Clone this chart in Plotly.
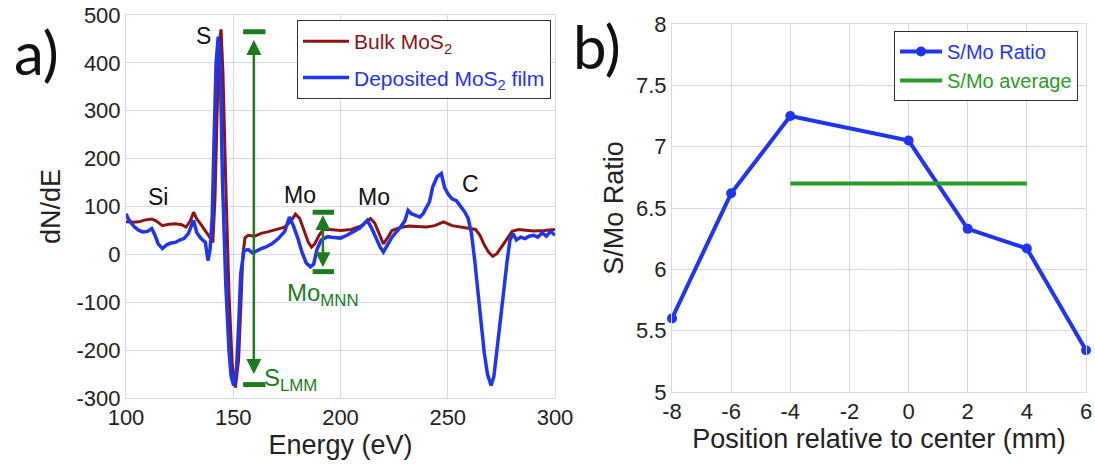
import plotly.graph_objects as go

# ---------------- data: panel a (Auger spectra) ----------------
bulk_energy = [100, 103, 106, 109, 112, 114, 117, 120, 123, 126, 128, 130, 131.5, 133, 135, 137, 139,
               140.5, 141.5, 142.5, 143.5, 144.3, 145.2, 146.5, 148, 149.5, 151, 152.5, 153.5, 154.5,
               155.5, 157, 160, 163, 166, 170, 174, 177, 179, 181, 183, 185, 186.5, 188, 190, 192, 195,
               200, 205, 210, 212, 214, 216, 218, 220, 222, 224, 228, 232, 236, 240, 244, 248, 252, 256,
               260, 263, 265, 267, 269, 271, 273, 275, 277, 280, 283, 286, 290, 295, 300]
bulk_dnde = [68, 67, 68, 72, 74, 70, 60, 63, 64, 62, 57, 70, 88, 74, 62, 50, 36,
             25, 120, 300, 440, 470, 380, 150, -80, -230, -278, -220, -100, 0,
             35, 40, 38, 44, 47, 52, 57, 70, 84, 75, 50, 25, 15, 22, 40, 52, 52,
             50, 52, 60, 68, 75, 65, 42, 22, 35, 50, 56, 59, 58, 57, 60, 68, 60, 57,
             55, 52, 40, 20, 5, -4, 2, 15, 30, 48, 52, 51, 49, 50, 52]

film_energy = [100, 101, 102.5, 104, 106, 108, 110, 112, 113.5, 115, 117, 119, 121, 123, 125, 127, 129,
               130.5, 131.5, 133, 135, 137, 138.2, 139.2, 140.2, 141, 142, 143, 144, 145, 146.5, 148,
               149, 150.2, 151.5, 152.5, 153.5, 155, 157, 159, 161, 163, 165, 168, 171, 174, 176.2,
               178, 180, 182, 184, 186, 187.5, 189, 191, 194, 197, 200, 203, 206, 209, 212.5, 214.5,
               216.5, 218.5, 220, 222, 224, 226, 228, 230, 231.5, 233, 235, 237, 238.5, 240, 241.5,
               243, 245, 247, 248.5, 250, 252, 254, 256, 258, 259.5, 261, 262.5, 264, 265.5, 267,
               268.5, 270.2, 271.5, 273, 274.5, 276, 277.5, 279, 280.5, 282, 284, 286, 288, 290, 292,
               294, 296, 298, 300]
film_dnde = [85, 75, 65, 57, 50, 47, 48, 54, 40, 22, 12, 20, 24, 25, 30, 33, 43,
             62, 71, 45, 33, 25, -13, 10, 80, 230, 400, 455, 380, 150, -60, -200,
             -255, -274, -240, -150, -40, 8, 10, 3, 8, 12, 15, 22, 33, 48, 78,
             60, 35, 5, -18, -26, -20, 10, 30, 37, 35, 34, 40, 48, 55, 71, 55,
             35, 15, 5, 20, 36, 47, 57, 70, 92, 85, 82, 78, 85, 98, 110,
             141, 162, 169, 140, 127, 116, 112, 100, 88, 75, 45, -10, -80, -150, -205,
             -250, -274, -255, -200, -140, -80, -20, 30, 43, 30, 36, 33, 38, 40, 36,
             45, 38, 48, 40]

energy_ticks = [100, 150, 200, 250, 300]
dnde_ticks = [-300, -200, -100, 0, 100, 200, 300, 400, 500]
dnde_ticktext = ["-300", "-200", "-100", "0", "100", "200", "300", "400", "500"]

# ---------------- data: panel b (S/Mo ratio) ----------------
position_mm = [-8, -6, -4, 0, 2, 4, 6]
smo_ratio = [5.6, 6.62, 7.25, 7.05, 6.33, 6.17, 5.34]
avg_position = [-4, 4]
avg_ratio = [6.7, 6.7]
position_ticks = [-8, -6, -4, -2, 0, 2, 4, 6]
position_ticktext = ["-8", "-6", "-4", "-2", "0", "2", "4", "6"]
ratio_ticks = [5, 5.5, 6, 6.5, 7, 7.5, 8]
ratio_ticktext = ["5", "5.5", "6", "6.5", "7", "7.5", "8"]

# ---------------- styles ----------------
W, H = 1095, 465
FONT = "Liberation Sans, Arial, sans-serif"
GRID = "#d6d6f6"
RED = "#8b1414"
BLUE = "#1f35f0"
GREEN_A = "#1e7a1e"
GREEN_B = "#2a9a2a"


def px_x(p):
    return p / W


def px_y(p):
    return 1 - p / H


fig = go.Figure()

fig.add_trace(go.Scatter(x=bulk_energy, y=bulk_dnde, mode="lines",
                         line=dict(color=RED, width=3), legendgroup="bulk",
                         name=f"<span style='color:{RED}'>Bulk MoS<sub>2</sub></span>",
                         xaxis="x", yaxis="y", legend="legend"))
fig.add_trace(go.Scatter(x=film_energy, y=film_dnde, mode="lines",
                         line=dict(color=BLUE, width=3.5), legendgroup="film",
                         name=f"<span style='color:{BLUE}'>Deposited MoS<sub>2</sub> film</span>",
                         xaxis="x", yaxis="y", legend="legend"))

fig.add_trace(go.Scatter(x=position_mm, y=smo_ratio, mode="lines+markers",
                         line=dict(color=BLUE, width=4), marker=dict(color=BLUE, size=10),
                         name=f"<span style='color:{BLUE}'>S/Mo Ratio</span>",
                         xaxis="x2", yaxis="y2", legend="legend2", cliponaxis=False))
fig.add_trace(go.Scatter(x=avg_position, y=avg_ratio, mode="lines",
                         line=dict(color=GREEN_B, width=4),
                         name=f"<span style='color:{GREEN_B}'>S/Mo average</span>",
                         xaxis="x2", yaxis="y2", legend="legend2"))

axis_common = dict(showgrid=True, gridcolor=GRID, gridwidth=1, showline=True, linecolor=GRID,
                   linewidth=1, mirror=True, ticks="", zeroline=False, automargin=False,
                   tickfont=dict(family=FONT, size=22, color="#222"))

fig.update_layout(
    width=W, height=H, margin=dict(l=0, r=0, t=0, b=0, autoexpand=False),
    paper_bgcolor="white", plot_bgcolor="white",
    font=dict(family=FONT, color="#222"),
    xaxis=dict(domain=[px_x(126), px_x(555)], range=[100, 300], tickvals=energy_ticks,
               anchor="y", title=dict(text="Energy (eV)", font=dict(size=27), standoff=2),
               **axis_common),
    yaxis=dict(domain=[px_y(398), px_y(15)], range=[-300, 500], tickvals=dnde_ticks,
               ticktext=dnde_ticktext,
               anchor="x", title=dict(text="dN/dE", font=dict(size=27), standoff=8),
               **axis_common),
    xaxis2=dict(domain=[px_x(672), px_x(1086)], range=[-8, 6], tickvals=position_ticks,
                ticktext=position_ticktext,
                anchor="y2", title=dict(text="Position relative to center (mm)", font=dict(size=27), standoff=0),
                **axis_common),
    yaxis2=dict(domain=[px_y(392), px_y(24)], range=[5, 8], tickvals=ratio_ticks,
                ticktext=ratio_ticktext, anchor="x2",
                title=dict(text="S/Mo Ratio", font=dict(size=27), standoff=4),
                **axis_common),
    legend=dict(x=px_x(297), y=px_y(20), xanchor="left", yanchor="top",
                bordercolor="#333", borderwidth=1, bgcolor="white", itemwidth=46,
                font=dict(family=FONT, size=21), tracegroupgap=6),
    legend2=dict(x=px_x(894), y=px_y(31), xanchor="left", yanchor="top",
                 bordercolor="#333", borderwidth=1, bgcolor="white", itemwidth=42,
                 font=dict(family=FONT, size=20), tracegroupgap=0),
    showlegend=True,
)

# peak labels (panel a)
for txt, ex, ev in [("S", 136.3, 456), ("Si", 114.8, 120), ("Mo", 180.9, 125),
                    ("Mo", 215.8, 120), ("C", 260.4, 146)]:
    fig.add_annotation(x=ex, y=ev, xref="x", yref="y", text=txt, showarrow=False,
                       font=dict(family=FONT, size=23, color="#111"))

# green measurement arrows
fig.add_annotation(x=159.6, y=448, ax=159.6, ay=-253, xref="x", yref="y", axref="x", ayref="y",
                   text="", showarrow=True, arrowhead=2, arrowside="end+start", arrowsize=1.2,
                   arrowwidth=2.5, arrowcolor=GREEN_A)
fig.add_annotation(x=191.8, y=82, ax=191.8, ay=-30, xref="x", yref="y", axref="x", ayref="y",
                   text="", showarrow=True, arrowhead=2, arrowside="end+start", arrowsize=1.2,
                   arrowwidth=2.5, arrowcolor=GREEN_A)
for x0, x1, yv in [(154.6, 165, 465), (154.6, 165, -272), (187, 197, 88), (187, 197, -36)]:
    fig.add_shape(type="line", x0=x0, x1=x1, y0=yv, y1=yv, xref="x", yref="y",
                  line=dict(color=GREEN_A, width=5))
fig.add_annotation(x=163.5, y=-262, xref="x", yref="y", text="S<sub>LMM</sub>", showarrow=False,
                   xanchor="left", font=dict(family=FONT, size=24, color=GREEN_A))
fig.add_annotation(x=174, y=-84, xref="x", yref="y", text="Mo<sub>MNN</sub>", showarrow=False,
                   xanchor="left", font=dict(family=FONT, size=24, color=GREEN_A))

# panel letters
fig.add_annotation(x=px_x(36), y=px_y(52), xref="paper", yref="paper", text="a)", showarrow=False,
                   xanchor="center", yanchor="middle",
                   font=dict(family="Lato, Open Sans, sans-serif", size=60, color="#111"))
fig.add_annotation(x=px_x(597), y=px_y(46), xref="paper", yref="paper", text="b)", showarrow=False,
                   xanchor="center", yanchor="middle",
                   font=dict(family="Lato, Open Sans, sans-serif", size=60, color="#111"))

fig.write_html("out.html")
